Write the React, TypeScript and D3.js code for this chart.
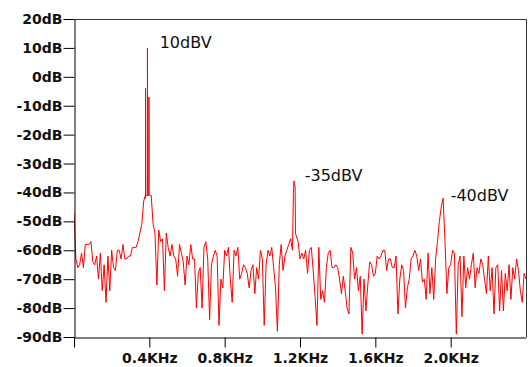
import { useRef, useEffect } from 'react';
import * as d3 from 'd3';

const WIDTH = 531;
const HEIGHT = 367;
const MARGIN = { top: 19, right: 5, bottom: 30, left: 74 };

// spectrum level in dB, one value every 0.01 KHz from 0 to 2.4 KHz
const FREQ_STEP = 0.01;
const LEVELS_DB = [
  -47, -63, -66, -65, -61, -66, -58, -58, -58, -57,
  -64, -65, -62, -70, -61, -74, -65, -78, -62, -74,
  -60, -66, -67, -60, -60, -63, -58, -63, -63, -62,
  -62, -59, -59, -59, -57, -54, -51, -43, -42, -40,
  -41, -41, -51, -54, -72, -53, -57, -56, -74, -54,
  -59, -62, -58, -62, -63, -69, -58, -61, -64, -72,
  -62, -65, -58, -63, -63, -80, -68, -66, -80, -59,
  -57, -63, -84, -65, -62, -60, -62, -86, -70, -73,
  -60, -62, -59, -70, -78, -60, -62, -59, -70, -68,
  -65, -66, -68, -73, -67, -65, -75, -66, -70, -60,
  -63, -86, -65, -60, -62, -59, -66, -73, -88, -65,
  -58, -67, -62, -60, -58, -56, -60, -37, -55, -57,
  -63, -61, -63, -60, -68, -60, -59, -67, -76, -86,
  -59, -77, -74, -78, -66, -61, -60, -66, -66, -65,
  -66, -70, -75, -69, -74, -80, -82, -59, -61, -70,
  -66, -74, -69, -89, -70, -81, -72, -64, -65, -69,
  -68, -62, -63, -62, -60, -60, -67, -63, -63, -66,
  -66, -62, -82, -70, -65, -67, -80, -73, -70, -63,
  -62, -60, -62, -67, -63, -71, -70, -77, -61, -75,
  -66, -77, -63, -57, -50, -45, -42, -57, -75, -66,
  -65, -60, -61, -89, -65, -62, -83, -62, -73, -66,
  -70, -65, -61, -73, -66, -68, -63, -65, -70, -75,
  -62, -74, -66, -82, -66, -65, -81, -67, -81, -68,
  -74, -65, -77, -66, -70, -63, -67, -74, -78, -68,
  -70,
];

// extra narrow points at the tones (KHz, dB)
const SPIKE_FREQ = [0.379, 0.380, 0.381, 0.389, 0.390, 0.391, 0.397, 0.398, 0.399, 1.165, 1.168, 1.174, 1.176];
const SPIKE_DB = [-41, -4, -41, -41, 10, -41, -41, -7, -41, -40, -36, -38, -54];

const X_TICKS = [0, 0.4, 0.8, 1.2, 1.6, 2.0];
const Y_TICKS = [20, 10, 0, -10, -20, -30, -40, -50, -60, -70, -80, -90];

const PEAK_LABELS = ['10dBV', '-35dBV', '-40dBV'];
const PEAK_LABEL_FREQ = [0.455, 1.225, 2.0];
const PEAK_LABEL_DB = [10, -36, -43];

export default function App() {
  const svgRef = useRef<SVGSVGElement | null>(null);

  useEffect(() => {
    const svg = d3.select(svgRef.current);
    svg.selectAll('*').remove();

    const innerW = WIDTH - MARGIN.left - MARGIN.right;
    const innerH = 337 - MARGIN.top;

    const x = d3.scaleLinear().domain([0, 2.4]).range([0, innerW]);
    const y = d3.scaleLinear().domain([-90, 20]).range([innerH, 0]);

    const g = svg.append('g').attr('transform', `translate(${MARGIN.left},${MARGIN.top})`);

    svg.append('defs').append('clipPath').attr('id', 'plot-clip')
      .append('rect').attr('x', 0).attr('y', 0).attr('width', innerW).attr('height', innerH);

    // frame: top and right edges
    g.append('path')
      .attr('d', `M0.5,0.5H${innerW + 0.5}V${innerH}`)
      .attr('fill', 'none')
      .attr('stroke', '#333')
      .attr('stroke-width', 1);

    // the spectrum trace: regular bins plus the narrow tone spikes
    const pts: [number, number][] = LEVELS_DB.map((v, i) => [i * FREQ_STEP, v] as [number, number])
      .concat(SPIKE_FREQ.map((f, i) => [f, SPIKE_DB[i]] as [number, number]))
      .sort((a, b) => a[0] - b[0]);
    const line = d3.line<[number, number]>()
      .x(d => x(d[0]))
      .y(d => y(d[1]));

    g.append('path')
      .datum(pts)
      .attr('clip-path', 'url(#plot-clip)')
      .attr('fill', 'none')
      .attr('stroke', '#ff0000')
      .attr('stroke-width', 1)
      .attr('d', line);

    // Y axis
    const yAxis = g.append('g')
      .attr('transform', 'translate(0.5,0)')
      .call(d3.axisLeft(y).tickValues(Y_TICKS).tickSize(11).tickPadding(1)
        .tickFormat(d => `${d}dB`).tickSizeOuter(0));
    yAxis.select('.domain').attr('stroke', '#000');
    yAxis.selectAll('line').attr('stroke', '#000');
    yAxis.selectAll('text')
      .attr('fill', '#111')
      .attr('font-family', '"DejaVu Sans", sans-serif')
      .attr('font-weight', 'bold')
      .attr('font-size', '14px');

    // X axis
    const xAxis = g.append('g')
      .attr('transform', `translate(0,${innerH + 0.5})`)
      .call(d3.axisBottom(x).tickValues(X_TICKS).tickSize(10).tickPadding(6)
        .tickFormat(d => (+d === 0 ? '' : `${(+d).toFixed(1)}KHz`)).tickSizeOuter(0));
    xAxis.select('.domain').attr('stroke', '#000');
    xAxis.selectAll('line').attr('stroke', '#000');
    xAxis.selectAll('text')
      .attr('fill', '#111')
      .attr('font-family', '"DejaVu Sans", sans-serif')
      .attr('font-weight', 'bold')
      .attr('font-size', '14px');

    // peak labels
    g.selectAll('.peak-label')
      .data(PEAK_LABELS)
      .join('text')
      .attr('class', 'peak-label')
      .attr('x', (_d, i) => x(PEAK_LABEL_FREQ[i]))
      .attr('y', (_d, i) => y(PEAK_LABEL_DB[i]))
      .attr('fill', '#111')
      .attr('font-family', '"DejaVu Sans", sans-serif')
      .attr('font-size', '16px')
      .text(d => d);
  }, []);

  return (
    <svg
      ref={svgRef}
      width={WIDTH}
      height={HEIGHT}
      style={{ position: 'absolute', left: 0, top: 0, background: '#fff' }}
    />
  );
}
